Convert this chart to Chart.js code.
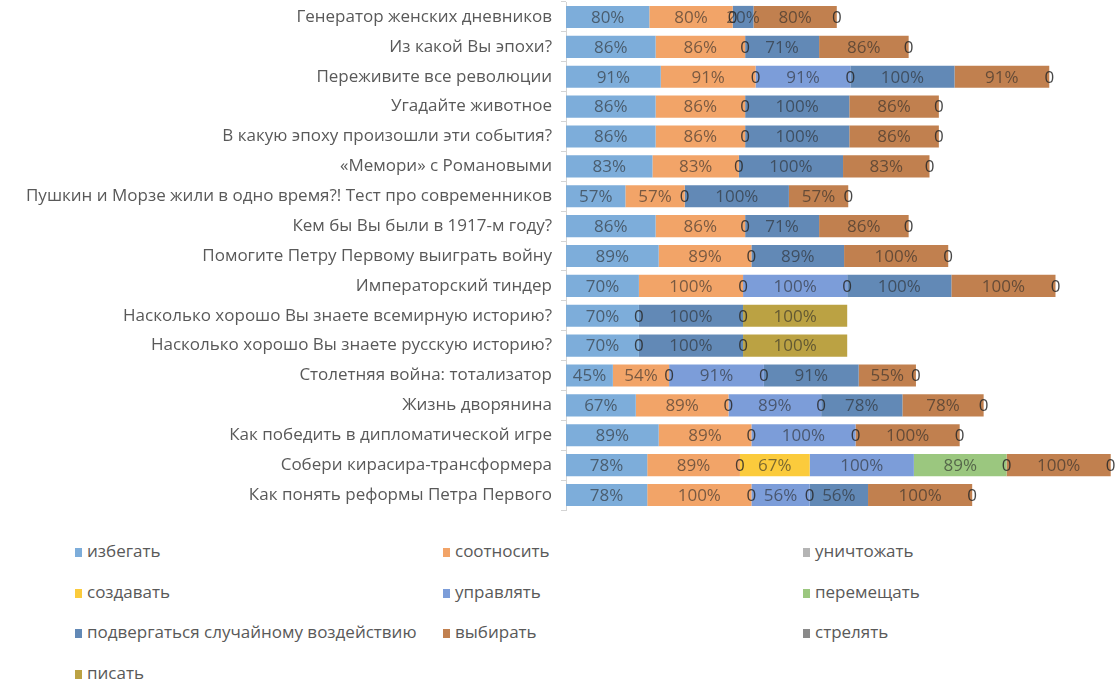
<!DOCTYPE html>
<html>
<head>
<meta charset="utf-8">
<script src="https://cdn.jsdelivr.net/npm/chart.js@4/dist/chart.umd.min.js"></script>
<style>
    html, body { margin: 0; padding: 0; background: #fff; width: 1118px; height: 680px; overflow: hidden; }
    #chartBox { position: absolute; left: 0; top: 0; width: 1118px; height: 512px; }
    #legend { position: absolute; left: 0; top: 530px; width: 1118px; font-family: "Open Sans", sans-serif; font-size: 17px; color: #595959; }
    .leg-item { position: absolute; white-space: nowrap; line-height: 20px; }
    .leg-item i { display: inline-block; width: 7px; height: 9px; margin-right: 5px; vertical-align: 0px; }
</style>
</head>
<body>
<div id="chartBox"><canvas id="quizChart"></canvas></div>
<div id="legend"></div>
<script>
const categories = [
    "Генератор женских дневников",
    "Из какой Вы эпохи?",
    "Переживите все революции",
    "Угадайте животное",
    "В какую эпоху произошли эти события?",
    "«Мемори» с Романовыми",
    "Пушкин и Морзе жили в одно время?! Тест про современников",
    "Кем бы Вы были в 1917-м году?",
    "Помогите Петру Первому выиграть войну",
    "Императорский тиндер",
    "Насколько хорошо Вы знаете всемирную историю?",
    "Насколько хорошо Вы знаете русскую историю?",
    "Столетняя война: тотализатор",
    "Жизнь дворянина",
    "Как победить в дипломатической игре",
    "Собери кирасира-трансформера",
    "Как понять реформы Петра Первого"
];

const seriesNames = ["избегать", "соотносить", "уничтожать", "создавать", "управлять", "перемещать",
    "подвергаться случайному воздействию", "выбирать", "стрелять", "писать"];
const seriesColors = ["#7dadda", "#f2a468", "#b4b4b4", "#fbcb3c", "#7c9dd9", "#9bc77f",
    "#6289b6", "#c1804f", "#8a8a8a", "#bba243"];

// values in %, null = no segment
const izbegat      = [80, 86, 91, 86, 86, 83, 57, 86, 89, 70, 70, 70, 45, 67, 89, 78, 78];
const sootnosit    = [80, 86, 91, 86, 86, 83, 57, 86, 89, 100, null, null, 54, 89, 89, 89, 100];
const unichtozhat  = [0, 0, 0, 0, 0, 0, 0, 0, 0, 0, 0, 0, 0, 0, 0, 0, 0];
const sozdavat     = [null, null, null, null, null, null, null, null, null, null, null, null, null, null, null, 67, null];
const upravlyat    = [null, null, 91, null, null, null, null, null, null, 100, null, null, 91, 89, 100, 100, 56];
const peremeshat   = [null, null, 0, null, null, null, null, null, null, 0, null, null, 0, 0, 0, 89, 0];
const podvergatsya = [20, 71, 100, 100, 100, 100, 100, 71, 89, 100, 100, 100, 91, 78, null, 0, 56];
const vybirat      = [80, 86, 91, 86, 86, 83, 57, 86, 100, 100, null, null, 55, 78, 100, 100, 100];
const strelyat     = [0, 0, 0, 0, 0, 0, 0, 0, 0, 0, 0, 0, 0, 0, 0, 0, 0];
const pisat        = [null, null, null, null, null, null, null, null, null, null, 100, 100, null, null, null, null, null];

const seriesValues = [izbegat, sootnosit, unichtozhat, sozdavat, upravlyat, peremeshat,
    podvergatsya, vybirat, strelyat, pisat];

const FONT = '"Open Sans", sans-serif';

// Excel-style labels inside each segment, "0" for empty ones
const barLabels = {
    id: "barLabels",
    afterDatasetsDraw(chart) {
        const ctx = chart.ctx;
        ctx.save();
        ctx.font = "17px " + FONT;
        ctx.textAlign = "center";
        ctx.textBaseline = "middle";
        chart.data.datasets.forEach((ds, i) => {
            chart.getDatasetMeta(i).data.forEach((bar, j) => {
                const v = ds.data[j];
                if (v === null || v === undefined) return;
                ctx.fillStyle = v === 0 ? "rgba(40,40,40,0.85)" : "rgba(40,40,40,0.6)";
                ctx.fillText(v === 0 ? "0" : v + "%", (bar.x + bar.base) / 2, bar.y + 1);
            });
        });
        ctx.restore();
    }
};

new Chart(document.getElementById("quizChart").getContext("2d"), {
    type: "bar",
    data: {
        labels: categories,
        datasets: seriesNames.map((name, i) => ({
            label: name,
            data: seriesValues[i],
            backgroundColor: seriesColors[i],
            categoryPercentage: 1,
            barPercentage: 0.74
        }))
    },
    options: {
        indexAxis: "y",
        responsive: true,
        maintainAspectRatio: false,
        animation: false,
        layout: { padding: { top: 2, bottom: 2, left: 0, right: 0 } },
        plugins: { legend: { display: false }, tooltip: { enabled: false } },
        scales: {
            x: { stacked: true, display: false, min: 0, max: 530 },
            y: {
                stacked: true,
                afterFit: (scale) => {
                    scale.width = 566;
                    scale.paddingTop = 0;
                    scale.paddingBottom = 0;
                },
                border: { display: true, color: "#d4d4d4" },
                grid: { drawOnChartArea: false, drawTicks: true, tickLength: 5, color: "#d4d4d4" },
                ticks: { color: "#595959", padding: 9, font: { family: FONT, size: 17 } }
            }
        }
    },
    plugins: [barLabels]
});

// legend: three columns like the original
const legendBox = document.getElementById("legend");
const colX = [75, 443, 803];
legendBox.innerHTML = seriesNames.map((name, i) => {
    const col = i % 3, row = Math.floor(i / 3);
    return `<div class="leg-item" style="left:${colX[col]}px;top:${row * 40.5 + 11}px"><i style="background:${seriesColors[i]}"></i>${name}</div>`;
}).join("");
</script>
</body>
</html>
